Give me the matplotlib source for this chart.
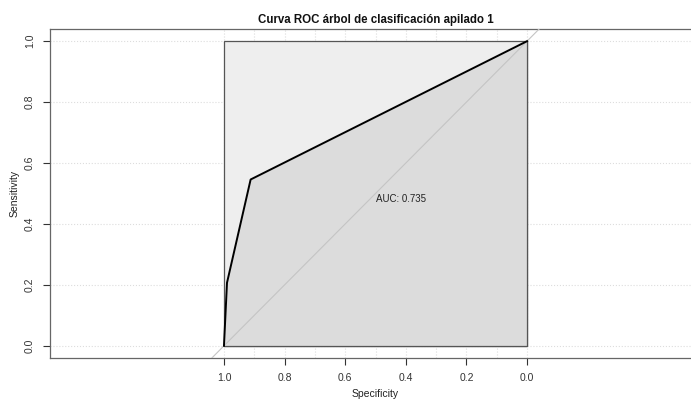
import numpy as np
import matplotlib.pyplot as plt

plt.rcParams['font.family'] = ['Liberation Sans', 'DejaVu Sans']

# Puntos de la curva ROC (especificidad, sensibilidad)
specificity = [1.0, 0.99, 0.912, 0.0]
sensitivity = [0.0, 0.207, 0.546, 1.0]
auc_text = "AUC: 0.735"
title = "Curva ROC árbol de clasificación apilado 1"
ticks = [1.0, 0.8, 0.6, 0.4, 0.2, 0.0]

fig = plt.figure(figsize=(6.91, 4.0), dpi=100)
ax = fig.add_axes([50 / 691, 42 / 400, 651 / 691, 329 / 400])
ax.set_xlim(1.574, -0.574)
ax.set_ylim(-0.04, 1.04)

# rejilla punteada
for v in np.arange(0, 1.01, 0.1):
    ax.axvline(v, color="#DDDDDD", linestyle=":", linewidth=0.8, zorder=0)
for h in np.arange(0, 1.01, 0.2):
    ax.axhline(h, color="#DDDDDD", linestyle=":", linewidth=0.8, zorder=0)

# polígono máximo y área bajo la curva
ax.fill([1, 1, 0, 0], [0, 1, 1, 0], facecolor="#EEEEEE", edgecolor="#555555",
        linewidth=0.9, zorder=1)
ax.fill(specificity + [0.0], sensitivity + [0.0], facecolor="#DCDCDC",
        edgecolor="none", zorder=2)
ax.plot([0, 0, 1], [1, 0, 0], color="#555555", linewidth=0.9, zorder=3)

# diagonal
ax.axline((1, 0), (0, 1), color="#C4C4C4", linewidth=0.8, zorder=3)

ax.plot(specificity, sensitivity, color="black", linewidth=1.4, zorder=4)
ax.text(0.5, 0.5, auc_text, ha="left", va="top", fontsize=7, color="#222222", zorder=5)

ax.set_xticks(ticks)
ax.set_xticklabels([f"{t:.1f}" for t in ticks])
ax.set_yticks(ticks)
ax.set_yticklabels([f"{t:.1f}" for t in ticks], rotation=90, va="center")
ax.tick_params(axis="both", labelsize=7.5, colors="#333333", length=5, width=0.8)
ax.tick_params(axis="x", pad=6)
ax.tick_params(axis="y", pad=6)
for s in ax.spines.values():
    s.set_color("#666666")
    s.set_linewidth(0.9)

ax.set_xlabel("Specificity", fontsize=7.5, color="#222222", labelpad=4)
ax.yaxis.set_label_coords(-30.5 / 651, 0.5)
ax.set_ylabel("Sensitivity", fontsize=7.5, color="#222222")
fig.text(375.5 / 691, 1 - 19.5 / 400, title, ha="center", va="center", fontsize=8.3,
         fontweight="bold", color="#111111")

fig.savefig("out.png", dpi=100)
